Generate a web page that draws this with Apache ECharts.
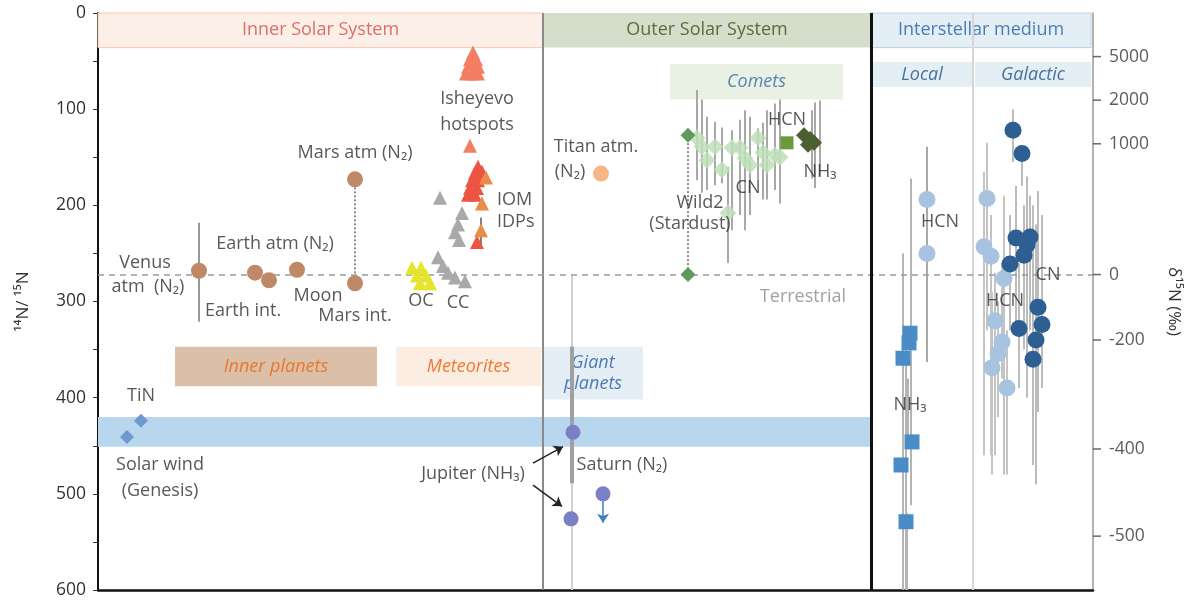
<!DOCTYPE html>
<html>
<head>
<meta charset="utf-8">
<script src="https://cdn.jsdelivr.net/npm/echarts@6/dist/echarts.min.js"></script>
<style>
  html, body { margin: 0; padding: 0; background: #fff; }
  #chart { width: 1197px; height: 601px; }
</style>
</head>
<body>
<div id="chart"></div>
<script>
// x = horizontal placement along the figure (position units), y = 14N/15N ratio
var TERRESTRIAL = 272;
var yTicksLeft = [0, 100, 200, 300, 400, 500, 600];
var deltaTicks = [5000, 2000, 1000, 0, -200, -400, -500];

// inner planets (brown circles)
var innerPlanets = [[101, 268], [157, 270], [171, 278], [199, 267], [257, 173], [257, 281]];
var innerPlanetErr = [[101, 218, 321]];
var marsLink = [[257, 173, 281]];

// meteorites (triangles)
var isheyevo = [[375, 41], [372, 48], [378, 48], [370, 56], [375, 56], [380, 56], [368, 63], [374, 63], [380, 63], [372, 138]];
var meteoriteRed = [[380, 160], [377, 166], [384, 165], [374, 174], [380, 174], [372, 182], [379, 182], [370, 189], [377, 189], [379, 238]];
var iomIdp = [[388, 171], [384, 198], [383, 226]];
var iomIdpErr = [[384, 192, 205], [383, 213, 241]];
var ccGray = [[342, 192], [364, 208], [360, 220], [357, 228], [361, 236], [340, 254], [345, 263], [350, 270], [357, 275], [367, 279]];
var ocYellow = [[314, 265], [323, 265], [319, 273], [328, 273], [322, 281], [332, 281]];

// outer solar system
var titan = [[503, 167]];
var wild2 = [[590, 127], [590, 272]];
var wild2Link = [[590, 127, 272]];
var cometCN = [[599, 130], [604, 139], [609, 153], [617, 139], [624, 163], [634, 140], [642, 140], [647, 151],
  [652, 158], [660, 130], [665, 145], [669, 158], [677, 148], [682, 150], [630, 208]];
var cometCNErr = [[599, 80, 174], [604, 90, 187], [609, 108, 184], [617, 113, 179], [624, 119, 177], [634, 122, 226],
  [642, 111, 210], [647, 101, 226], [652, 108, 210], [660, 120, 174], [665, 114, 194], [669, 101, 194],
  [677, 94, 184], [682, 90, 198], [630, 160, 260]];
var cometHCN = [[689, 135]];
var cometNH3 = [[706, 127], [712, 131], [716, 135], [710, 137]];
var cometNH3Err = [[717, 93, 182], [714, 101, 172], [722, 91, 170]];

// giant planets and solar wind
var jupiter = [[475, 436], [473, 526]];
var jupiterErr = [[474, 347, 489]];
var jupiterRange = [[474, 272, 600]];
var saturn = [[505, 500]];
var solarWind = [[29, 441], [43, 424]];

// interstellar medium
var localHCN = [[829, 194], [829, 250]];
var localHCNErr = [[829, 139, 363]];
var localNH3 = [[812, 333], [811, 343], [805, 359], [814, 446], [803, 470], [808, 529]];
var localNH3Err = [[813, 172, 512], [805, 250, 600], [808, 345, 600], [810, 380, 450], [809, 520, 600]];
var galacticCN = [[915, 122], [924, 146], [918, 234], [932, 233], [929, 241], [926, 252], [912, 261],
  [940, 306], [944, 324], [921, 328], [938, 340], [935, 360]];
var galacticCNErr = [[915, 100, 155], [924, 140, 180], [918, 180, 330], [932, 190, 330], [929, 170, 400],
  [926, 200, 350], [912, 210, 330], [940, 185, 415], [944, 210, 390], [921, 260, 390], [938, 220, 490], [935, 200, 470]];
var galacticHCN = [[889, 193], [886, 243], [893, 253], [906, 276], [897, 320], [904, 342], [900, 354], [894, 369], [909, 390]];
var galacticHCNErr = [[889, 135, 330], [886, 165, 460], [893, 210, 460], [906, 190, 480], [897, 270, 460],
  [904, 260, 380], [900, 300, 420], [894, 290, 480], [909, 330, 480]];

// shaded regions [label, x0, x1, y0, y1, fill, textColor, italic]
var bands = [
  ['Inner Solar System', 0, 445, 0, 36, '#fcefe7', '#dc6f6b', false],
  ['Outer Solar System', 445, 773, 0, 36, '#d3dfcb', '#5c6b3b', false],
  ['Interstellar medium', 773, 993, 0, 36, '#e4eef5', '#4b7cb8', false],
  ['Local', 773, 875, 51, 77, '#e4eef5', '#4b6f9c', true],
  ['Galactic', 877, 993, 51, 77, '#e4eef5', '#4b6f9c', true],
  ['Comets', 572, 745, 53, 90, '#e9f1e5', '#5b84b0', true],
  ['Inner planets', 77, 279, 347, 388, '#dcbfa8', '#e8782e', true],
  ['Meteorites', 298, 443, 347, 388, '#fcede3', '#f07a32', true],
  ['Giant\nplanets', 445, 545, 347, 402, '#e5eef5', '#4b7cb8', true],
  ['', 0, 774, 420, 451, '#b8d7ef', '#000', false]
];

// text annotations [text, x, y, align, color]
var notes = [
  ['Mars atm (N₂)', 257, 145, 'center'], ['Venus', 47, 260, 'center'], ['atm  (N₂)', 50, 285, 'center'],
  ['Earth atm (N₂)', 177, 240, 'center'], ['Earth int.', 145, 310, 'center'], ['Moon', 220, 294, 'center'],
  ['Mars int.', 257, 315, 'center'], ['Isheyevo', 379, 89, 'center'], ['hotspots', 379, 116, 'center'],
  ['IOM', 399, 194, 'left'], ['IDPs', 399, 217, 'left'], ['OC', 323, 299, 'center'], ['CC', 360, 301, 'center'],
  ['TiN', 43, 398, 'center'], ['Solar wind', 62, 470, 'center'], ['(Genesis)', 62, 497, 'center'],
  ['Jupiter (NH₃)', 375, 479, 'center'], ['Saturn (N₂)', 524, 470, 'center'], ['Titan atm.', 498, 139, 'center'],
  ['(N₂)', 472, 165, 'center'], ['Wild2', 602, 197, 'center'], ['(Stardust)', 592, 219, 'center'],
  ['HCN', 689, 111, 'center'], ['CN', 650, 182, 'center'], ['NH₃', 722, 165, 'center'],
  ['Terrestrial', 705, 295, 'center', '#8a8a8a'], ['HCN', 842, 217, 'center'], ['NH₃', 812, 408, 'center'],
  ['HCN', 907, 299, 'center'], ['CN', 950, 272, 'center']
];

var arrows = [[[435, 468], [465, 451], '#222'], [[435, 491], [464, 513], '#222'], [[505, 500], [505, 530], '#3d7fc0']];

var FONT = 'Open Sans';
var X_MAX = 995;

function bar(color, width, dash) {
  return function (params, api) {
    var a = api.coord([api.value(0), api.value(1)]);
    var b = api.coord([api.value(0), api.value(2)]);
    return {
      type: 'line',
      shape: { x1: a[0], y1: a[1], x2: b[0], y2: b[1] },
      style: { stroke: color, lineWidth: width, lineDash: dash || null }
    };
  };
}

function errSeries(data, color, width, dash) {
  return { type: 'custom', data: data, renderItem: bar(color, width, dash), encode: { x: 0, y: [1, 2] }, z: 3, silent: true };
}

function pts(data, symbol, size, color, z) {
  return { type: 'scatter', data: data, symbol: symbol, symbolSize: size, itemStyle: { color: color, opacity: 1 }, z: z || 5, silent: true };
}

var chart = echarts.init(document.getElementById('chart'));

var option = {
  animation: false,
  textStyle: { fontFamily: FONT },
  grid: { left: 98, right: 104, top: 13, bottom: 11 },
  xAxis: {
    type: 'value', min: 0, max: X_MAX,
    axisLine: { show: true, onZero: false, lineStyle: { color: '#111', width: 2.5 } },
    axisTick: { show: false }, axisLabel: { show: false }, splitLine: { show: false }
  },
  yAxis: [{
    type: 'value', min: 0, max: 600, interval: 100, inverse: true,
    name: '¹⁴N/ ¹⁵N', nameLocation: 'middle', nameGap: 66, nameRotate: 90,
    nameTextStyle: { fontSize: 17, color: '#333', fontFamily: FONT },
    axisLine: { show: true, lineStyle: { color: '#111', width: 2 } },
    axisTick: { show: true, inside: false, length: 5, lineStyle: { color: '#333' } },
    minorTick: { show: true, splitNumber: 2, length: 5, lineStyle: { color: '#333' } },
    axisLabel: { fontSize: 17.5, color: '#333', margin: 12, fontFamily: FONT,
      formatter: function (v) { return yTicksLeft.indexOf(v) >= 0 ? v : ''; } },
    splitLine: { show: false }
  }, {
    type: 'value', min: 0, max: 600, inverse: true, position: 'right',
    name: 'δ¹⁵N (‰)', nameLocation: 'middle', nameGap: 72, nameRotate: -90,
    nameTextStyle: { fontSize: 17, color: '#333', fontFamily: FONT },
    axisLine: { show: true, lineStyle: { color: '#999', width: 1.5 } },
    axisTick: { show: false }, axisLabel: { show: false }, splitLine: { show: false }
  }],
  series: [
    // shaded bands
    {
      type: 'scatter', data: [], z: 1, silent: true,
      markArea: {
        silent: true,
        data: bands.map(function (b) {
          return [{
            name: b[0], xAxis: b[1], yAxis: b[3],
            itemStyle: { color: b[5], borderColor: b[1] === 0 && b[3] === 0 ? '#f6c9ae' : (b[3] === 0 && b[1] === 773 ? '#bcd2e3' : 'transparent'), borderWidth: 1 },
            label: { show: true, position: 'inside', color: b[6], fontSize: 18, fontStyle: b[7] ? 'italic' : 'normal', fontFamily: FONT, lineHeight: 21 }
          }, { xAxis: b[2], yAxis: b[4] }];
        })
      }
    },
    // separators and terrestrial reference
    {
      type: 'scatter', data: [], z: 2, silent: true,
      markLine: {
        silent: true, symbol: 'none', label: { show: false },
        data: [
          { xAxis: 445, lineStyle: { color: '#8a8a8a', width: 2, type: 'solid' } },
          { xAxis: 875, lineStyle: { color: '#d6d6d6', width: 2, type: 'solid' } },
          { yAxis: TERRESTRIAL, lineStyle: { color: '#9a9a9a', width: 1.5, type: [6, 5] } }
        ]
      }
    },
    {
      type: 'scatter', data: [], z: 8, silent: true,
      markLine: {
        silent: true, symbol: 'none', label: { show: false },
        data: [{ xAxis: 773, lineStyle: { color: '#111', width: 3, type: 'solid' } }]
      }
    },
    // error bars
    errSeries(innerPlanetErr, '#777', 1.5),
    errSeries(iomIdpErr, '#555', 1.5),
    errSeries(cometCNErr, '#a8a8a8', 2),
    errSeries(cometNH3Err, '#a8a8a8', 2),
    errSeries(jupiterRange, '#d0d0d0', 2),
    errSeries(jupiterErr, '#a0a0a0', 4),
    errSeries(localHCNErr, '#a8a8a8', 2),
    errSeries(localNH3Err, '#b4b4b4', 2),
    errSeries(galacticHCNErr, '#c4c4c4', 2),
    errSeries(galacticCNErr, '#a6a6a6', 1.5),
    errSeries(marsLink, '#666', 1.5, [2, 2]),
    errSeries(wild2Link, '#666', 1.5, [2, 2]),
    // arrows
    {
      type: 'scatter', data: [], z: 6, silent: true,
      markLine: {
        silent: true, symbol: ['none', 'arrow'], symbolSize: 9, label: { show: false },
        data: arrows.map(function (a) {
          return [{ coord: a[0], lineStyle: { color: a[2], width: 1.5, type: 'solid' } }, { coord: a[1] }];
        })
      }
    },
    // points
    pts(innerPlanets, 'circle', 16, '#bf8968'),
    pts(ccGray, 'triangle', 14, '#a9a9a9'),
    pts(ocYellow, 'triangle', 14, '#e6e42c'),
    pts(isheyevo, 'triangle', 14, '#f47e62'),
    pts(meteoriteRed, 'triangle', 14, '#ee5442'),
    pts(iomIdp, 'triangle', 14, '#ec8a4a'),
    pts(titan, 'circle', 16, '#f6b687'),
    pts(cometCN, 'diamond', 17, 'rgba(190,225,185,0.85)'),
    pts(wild2, 'diamond', 15, '#5f9a5c'),
    pts(cometHCN, 'rect', 13, '#6b9a3c'),
    pts(cometNH3, 'diamond', 16, '#4b5f2f'),
    pts(jupiter, 'circle', 15, '#7b80c6'),
    pts(saturn, 'circle', 15, '#7b80c6'),
    pts(solarWind, 'diamond', 14, '#6f98d0'),
    pts(localHCN, 'circle', 17, '#a7c3e0'),
    pts(localNH3, 'rect', 15, '#4a8cc8'),
    pts(galacticHCN, 'circle', 17, '#a7c3e0'),
    pts(galacticCN, 'circle', 17, '#2d5f93'),
    // right-hand delta15N scale
    {
      type: 'scatter', yAxisIndex: 1, z: 9, silent: true, clip: false,
      data: deltaTicks.map(function (d) { return [X_MAX, TERRESTRIAL / (1 + d / 1000)]; }),
      symbol: 'rect', symbolSize: [8, 1.5], symbolOffset: [4, 0],
      itemStyle: { color: '#444' },
      label: {
        show: true, position: 'right', distance: 8, fontSize: 17.5, color: '#333', fontFamily: FONT,
        formatter: function (p) { return String(deltaTicks[p.dataIndex]); }
      }
    },
    // text annotations
    {
      type: 'scatter', z: 10, silent: true, symbolSize: 0,
      data: notes.map(function (n) {
        return {
          value: [n[1], n[2]],
          label: { show: true, position: 'inside', formatter: n[0], align: n[3], color: n[4] || '#2e2e2e', fontSize: 18, fontFamily: FONT }
        };
      })
    }
  ]
};

chart.setOption(option);
</script>
</body>
</html>
